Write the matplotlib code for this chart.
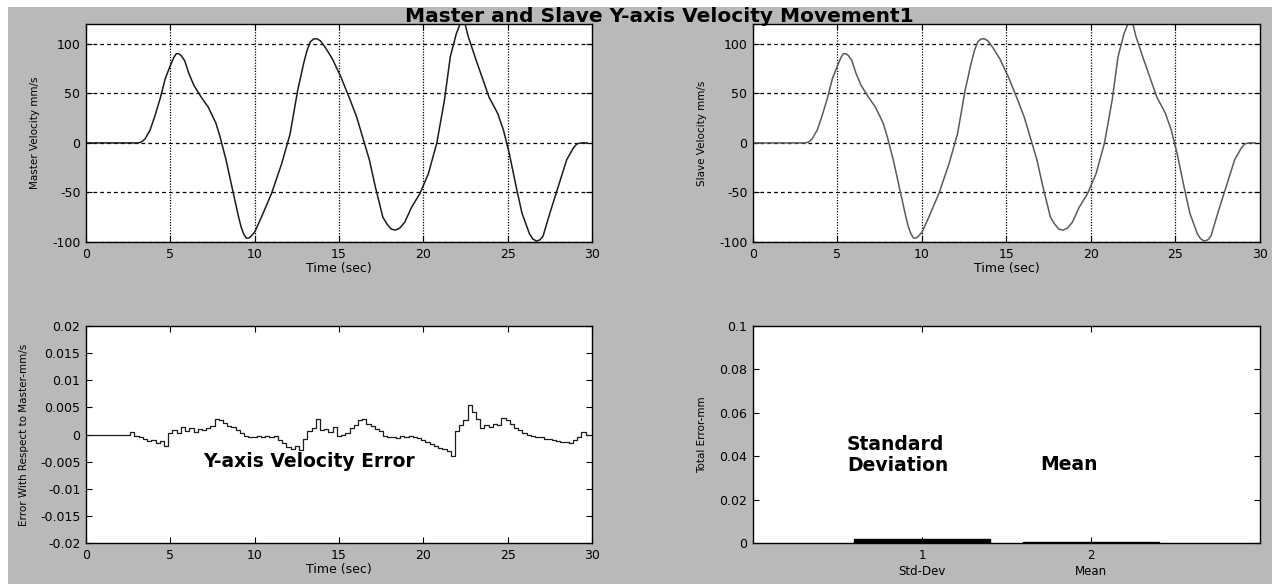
import numpy as np
import matplotlib
matplotlib.use("Agg")
import matplotlib.pyplot as plt
from matplotlib.patches import Rectangle

plt.rcParams["font.family"] = ["DejaVu Sans"]
plt.rcParams["axes.unicode_minus"] = False

W, H = 1272, 584
BG = "#b9b9b9"

# ── data ───────────────────────────────────────────────────────────────────
MASTER_T = [0.0, 3.1, 3.3, 3.5, 3.8, 4.1, 4.4, 4.7, 5.0, 5.2,
            5.35, 5.5, 5.65, 5.85, 6.1, 6.4, 6.8, 7.25, 7.7, 7.95,
            8.3, 8.7, 9.05, 9.2, 9.35, 9.5, 9.65, 9.8, 10.0, 10.4,
            11.0, 11.6, 12.1, 12.55, 12.9, 13.1, 13.3, 13.5, 13.7, 13.9,
            14.2, 14.6, 15.1, 15.6, 16.05, 16.4, 16.8, 17.15, 17.6, 17.85,
            18.1, 18.35, 18.6, 18.9, 19.3, 19.8, 20.3, 20.8, 21.25, 21.6,
            21.95, 22.2, 22.45, 22.65, 23.1, 23.55, 23.9, 24.4, 24.75, 25.1,
            25.5, 25.85, 26.3, 26.5, 26.7, 26.9, 27.1, 27.5, 28.0, 28.5,
            28.9, 29.1, 29.35, 29.7]
MASTER_V = [0, 0, 1, 4, 13, 28, 45, 65, 78, 86,
            90, 90, 88, 83, 70, 58, 47, 36, 20, 6,
            -17, -48, -75, -85, -92, -96, -96, -94, -90, -75,
            -51, -21, 9, 53, 80, 93, 102, 105, 105, 103,
            96, 85, 67, 46, 26, 6, -17, -44, -75, -82,
            -87, -88, -86, -80, -65, -51, -31, 0, 43, 87,
            110, 121, 122, 108, 85, 63, 46, 30, 13, -11,
            -44, -71, -92, -97, -99, -98, -94, -71, -44, -17,
            -5, -1, 0, 0]

# slave follows master to within a few thousandths, same readings
SLAVE_T = MASTER_T
SLAVE_V = MASTER_V

# velocity error (x1e-3), sampled every 0.25 s from 2.5 s
ERR_START, ERR_STEP = 2.5, 0.25
ERR_MILLI = [
    0, 0.4, -0.2, -0.5, -0.9, -1.2, -1.0, -1.6,
    -1.2, -2.2, 0.3, 0.8, 0.2, 1.4, 0.6, 1.2,
    0.5, 1.0, 0.8, 1.2, 1.6, 2.9, 2.6, 2.2,
    1.6, 1.3, 0.8, 0.3, -0.2, -0.5, -0.4, -0.3,
    -0.5, -0.3, -0.4, -0.2, -1.0, -1.6, -2.3, -2.6,
    -2.2, -2.8, -0.8, 0.6, 1.2, 2.8, 0.8, 1.1,
    0.4, 1.3, -0.2, -0.1, 0.2, 1.2, 1.8, 2.6,
    2.9, 2.0, 1.6, 1.0, 0.6, -0.2, -0.5, -0.4,
    -0.6, -0.3, -0.4, -0.2, -0.4, -0.7, -1.0, -1.4,
    -1.8, -2.2, -2.4, -2.7, -3.1, -3.9, 0.6, 1.8,
    2.6, 5.4, 4.2, 2.8, 1.2, 1.8, 1.3, 2.0,
    1.7, 3.0, 2.6, 1.9, 1.2, 0.8, 0.3, -0.1,
    -0.3, -0.5, -0.4, -0.8, -0.9, -1.1, -1.2, -1.4,
    -1.3, -1.5, -1.0, -0.5, 0.4, 0.0,
]

BAR_POS = [1, 2]
BAR_VALS = [0.0018, 0.0003]
BAR_LABELS = ["1\nStd-Dev", "2\nMean"]

VEL_TICKS = [-100, -50, 0, 50, 100]
TIME_TICKS = [0, 5, 10, 15, 20, 25, 30]
ERR_TICKS = [-0.02, -0.015, -0.01, -0.005, 0, 0.005, 0.01, 0.015, 0.02]
ERR_TICK_LABELS = ["-0.02", "-0.015", "-0.01", "-0.005", "0",
                   "0.005", "0.01", "0.015", "0.02"]
TOT_TICKS = [0, 0.02, 0.04, 0.06, 0.08, 0.1]
TOT_TICK_LABELS = ["0", "0.02", "0.04", "0.06", "0.08", "0.1"]


def px_axes(fig, left, top, right, bottom):
    return fig.add_axes([left / W, 1 - bottom / H,
                         (right - left) / W, (bottom - top) / H])


def matlab_style(ax):
    ax.set_facecolor("white")
    for s in ax.spines.values():
        s.set_linewidth(1.0)
        s.set_color("black")
    ax.tick_params(direction="in", top=True, right=True, length=4,
                   width=0.8, labelsize=9, pad=4)


def velocity_panel(ax, t, v, colour, ylabel):
    ax.plot(t, v, color=colour, lw=1.1)
    ax.set_xlim(0, 30)
    ax.set_ylim(-100, 120)
    ax.set_xticks(TIME_TICKS)
    ax.set_yticks(VEL_TICKS)
    for y in VEL_TICKS:
        ax.axhline(y, color="black", lw=0.9, ls=(0, (3, 2.5)), zorder=0)
    for x in TIME_TICKS[1:-1]:
        ax.axvline(x, color="black", lw=0.9, ls=(0, (1, 1.2)), zorder=0)
    ax.set_xlabel("Time (sec)", fontsize=9)
    ax.xaxis.set_label_coords(0.5, -0.092)
    ax.set_ylabel(ylabel, fontsize=7.5)
    ax.yaxis.set_label_coords(-0.091, 0.5)


fig = plt.figure(figsize=(W / 100, H / 100), dpi=100, facecolor="white")
fig.patches.append(Rectangle((8 / W, 0), 1, 1 - 7 / H, transform=fig.transFigure,
                             facecolor=BG, edgecolor="none", zorder=-10))

# top-left: master
ax1 = px_axes(fig, 86, 24, 592, 242)
matlab_style(ax1)
velocity_panel(ax1, MASTER_T, MASTER_V, "#1c1c1c", "Master Velocity mm/s")

# top-right: slave
ax2 = px_axes(fig, 753, 24, 1260, 242)
matlab_style(ax2)
velocity_panel(ax2, SLAVE_T, SLAVE_V, "#5a5a5a", "Slave Velocity mm/s")

# bottom-left: error trace
ax3 = px_axes(fig, 86, 326, 592, 543)
matlab_style(ax3)
err = np.array([0.0] + ERR_MILLI) * 1e-3
t_err = np.r_[0.0, ERR_START + ERR_STEP * np.arange(len(ERR_MILLI))]
ax3.plot(t_err, err, color="#1c1c1c", lw=0.9, drawstyle="steps-mid")
ax3.set_xlim(0, 30)
ax3.set_ylim(-0.02, 0.02)
ax3.set_xticks(TIME_TICKS)
ax3.set_yticks(ERR_TICKS)
ax3.set_yticklabels(ERR_TICK_LABELS)
ax3.text(6.95, -0.005, "Y-axis Velocity Error", fontsize=13.5,
         fontweight="bold", va="center", ha="left")
ax3.set_xlabel("Time (sec)", fontsize=9)
ax3.xaxis.set_label_coords(0.5, -0.092)
ax3.set_ylabel("Error With Respect to Master-mm/s", fontsize=7.5)
ax3.yaxis.set_label_coords(-0.113, 0.5)

# bottom-right: totals
ax4 = px_axes(fig, 753, 326, 1260, 543)
matlab_style(ax4)
ax4.bar(BAR_POS, BAR_VALS, width=0.8, color="black", edgecolor="black")
ax4.set_xlim(0, 3)
ax4.set_ylim(0, 0.1)
ax4.set_xticks(BAR_POS)
ax4.set_xticklabels(BAR_LABELS, fontsize=8.5, linespacing=1.35)
ax4.set_yticks(TOT_TICKS)
ax4.set_yticklabels(TOT_TICK_LABELS)
ax4.text(0.555, 0.0405, "Standard\nDeviation", fontsize=13.5,
         fontweight="bold", va="center", ha="left", linespacing=1.1)
ax4.text(1.70, 0.036, "Mean", fontsize=13.5, fontweight="bold",
         va="center", ha="left")
ax4.set_ylabel("Total Error-mm", fontsize=7.5)
ax4.yaxis.set_label_coords(-0.091, 0.5)

fig.text(405 / W, 1 - 21.5 / H, "Master and Slave Y-axis Velocity Movement1",
         fontsize=14.5, fontweight="bold", ha="left", va="baseline")

fig.savefig("out.png", dpi=100, facecolor=fig.get_facecolor())
